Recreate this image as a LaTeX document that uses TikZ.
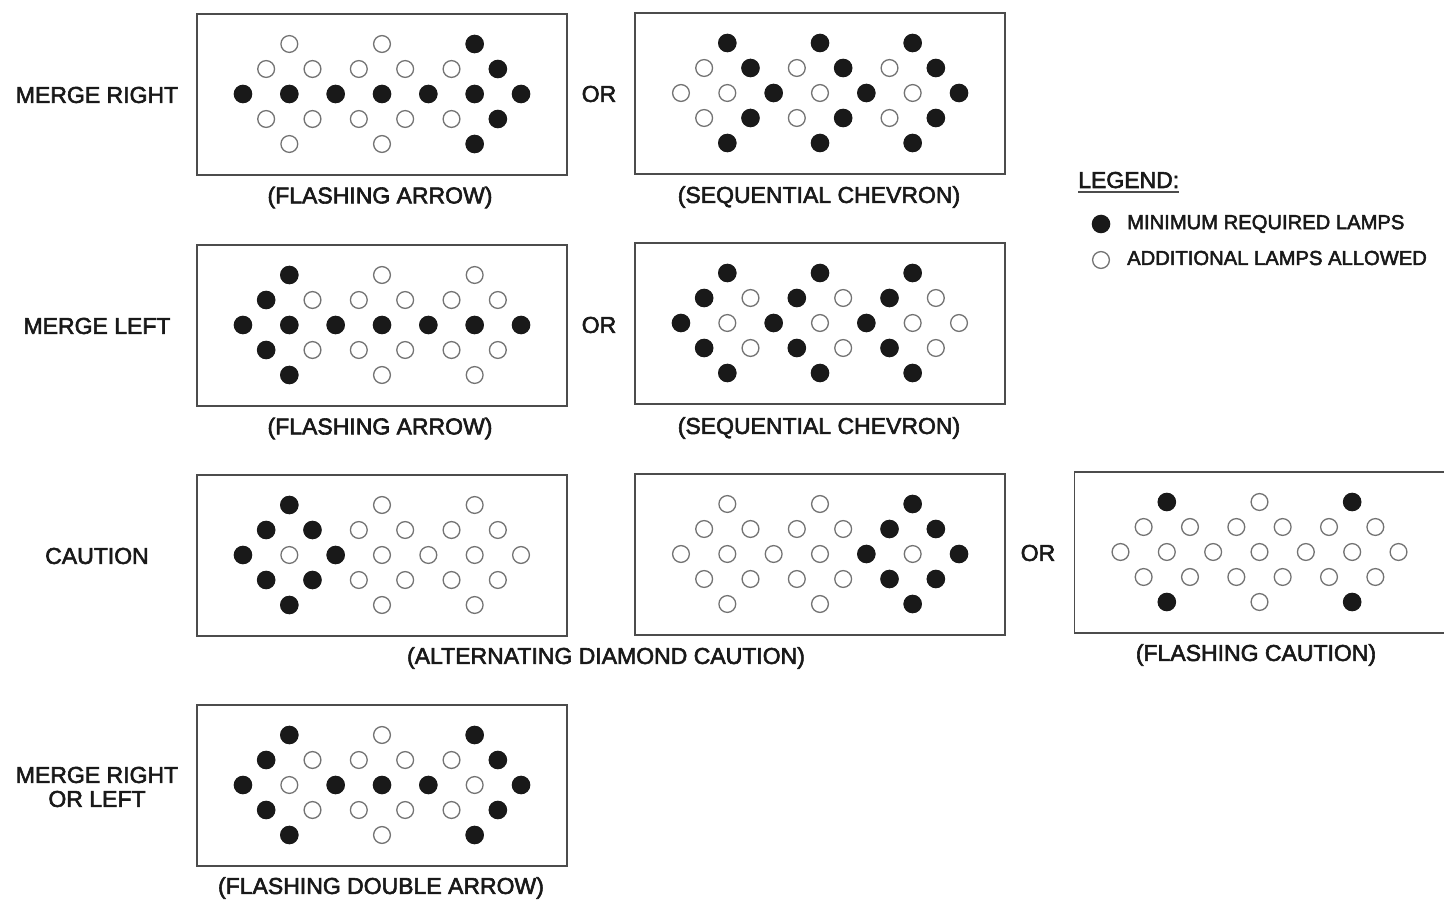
\documentclass[tikz,border=0pt]{standalone}
\usepackage{fontspec}
\setmainfont{Liberation Sans}
\newfontfamily\signfont{Liberation Sans}[FakeBold=2.5]
\usepackage{tikz}

\tikzset{
  panelbox/.style={draw=black!70, line width=1.5pt},
  lampoff/.style={draw=black!55, line width=1.3pt, fill=white},
  lampon/.style={fill=black!90},
  signlabel/.style={font=\signfont\fontsize{23}{24}\selectfont, text=black!90, inner sep=0pt},
  legendtext/.style={font=\signfont\fontsize{20.2}{22}\selectfont, text=black!90, inner sep=0pt, anchor=west}
}

\newcommand{\signpanel}[3]{%
  \draw[panelbox] (#1-185,#2-80) rectangle (#1+185,#2+81);
  \foreach \c/\r in {-4/-2, 0/-2, 4/-2, -5/-1, -3/-1, -1/-1, 1/-1, 3/-1, 5/-1,
      -6/0, -4/0, -2/0, 0/0, 2/0, 4/0, 6/0, -5/1, -3/1, -1/1, 1/1, 3/1, 5/1, -4/2, 0/2, 4/2}{
    \draw[lampoff] (#1+\c*23.17, #2+\r*25) circle (8.4pt);}
  \foreach \c/\r in {#3}{
    \fill[lampon] (#1+\c*23.17, #2+\r*25) circle (9.3pt);}
}

\begin{document}
\begin{tikzpicture}[x=1pt, y=-1pt]
        \useasboundingbox (0,0) rectangle (1444,909);
        \fill[white] (0,0) rectangle (1444,909);
        \signpanel{382}{94}{4/-2, 5/-1, -6/0, -4/0, -2/0, 0/0, 2/0, 4/0, 6/0, 5/1, 4/2}
        \signpanel{820}{93}{-4/-2, 0/-2, 4/-2, -3/-1, 1/-1, 5/-1, -2/0, 2/0, 6/0, -3/1, 1/1, 5/1, -4/2, 0/2, 4/2}
        \signpanel{382}{325}{-4/-2, -5/-1, -6/0, -4/0, -2/0, 0/0, 2/0, 4/0, 6/0, -5/1, -4/2}
        \signpanel{820}{323}{-4/-2, 0/-2, 4/-2, -5/-1, -1/-1, 3/-1, -6/0, -2/0, 2/0, -5/1, -1/1, 3/1, -4/2, 0/2, 4/2}
        \signpanel{382}{555}{-4/-2, -5/-1, -3/-1, -6/0, -2/0, -5/1, -3/1, -4/2}
        \signpanel{820}{554}{4/-2, 3/-1, 5/-1, 2/0, 6/0, 3/1, 5/1, 4/2}
        \signpanel{1259.5}{552}{-4/-2, 4/-2, -4/2, 4/2}
        \signpanel{382}{785}{-4/-2, 4/-2, -5/-1, 5/-1, -6/0, -2/0, 0/0, 2/0, 6/0, -5/1, 5/1, -4/2, 4/2}
        \node[signlabel] (mergeRight) at (97,95) {MERGE RIGHT};
        \node[signlabel] (mergeLeft) at (97,326) {MERGE LEFT};
        \node[signlabel] (caution) at (97,556) {CAUTION};
        \node[signlabel, align=center] (mergeBoth) at (97,787) {MERGE RIGHT\\OR LEFT};
        \node[signlabel] (orRight) at (599,94) {OR};
        \node[signlabel] (orLeft) at (599,325) {OR};
        \node[signlabel] (orCaution) at (1038,553) {OR};
        \node[signlabel] (arrowRight) at (380,197.5) {(FLASHING ARROW)};
        \node[signlabel] (chevronRight) at (819,197) {(SEQUENTIAL CHEVRON)};
        \node[signlabel] (arrowLeft) at (380,428.5) {(FLASHING ARROW)};
        \node[signlabel] (chevronLeft) at (819,428) {(SEQUENTIAL CHEVRON)};
        \node[signlabel] (diamondCaution) at (606,658) {(ALTERNATING DIAMOND CAUTION)};
        \node[signlabel] (flashCaution) at (1256,655) {(FLASHING CAUTION)};
        \node[signlabel] (doubleArrow) at (381,888) {(FLASHING DOUBLE ARROW)};
        \node[signlabel, anchor=base west] (legendHead) at (1078,188) {LEGEND:};
        \draw[line width=1.4pt, black!70] ([yshift=-3.5pt]legendHead.south west) -- ([yshift=-3.5pt]legendHead.south east);
        \fill[lampon] (1101,224) circle (9.3pt);
        \draw[lampoff] (1101,260) circle (8.4pt);
        \node[legendtext] (legendOn) at (1127,224) {MINIMUM REQUIRED LAMPS};
        \node[legendtext] (legendOff) at (1127,258) {ADDITIONAL LAMPS ALLOWED};
    \end{tikzpicture}
\end{document}
